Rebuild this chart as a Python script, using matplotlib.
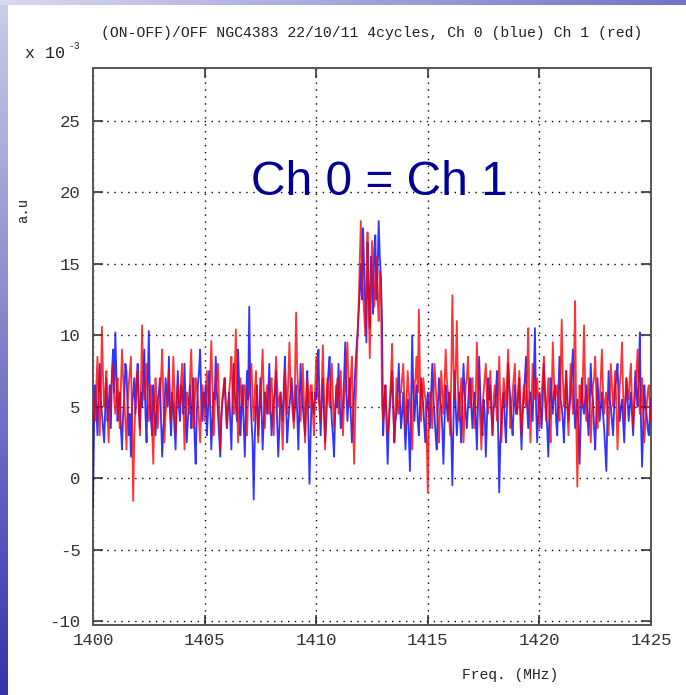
import numpy as np
import matplotlib
matplotlib.use("Agg")
import matplotlib.pyplot as plt

# ---------------- data (values in units of 1e-3) ----------------
freq_start = 1400.0
freq_step = 0.05

ch0_blue = [
    -2.0, 4.0, 6.5, 5.0, 3.0, 6.0, 8.0, 5.5, 4.5, 3.5, 2.5, 5.0, 7.0, 4.0, 5.0, 6.5, 3.5, 7.5, 9.0, 6.0,
    10.2, 7.0, 4.0, 5.5, 6.0, 3.5, 2.0, 4.5, 5.5, 8.0, 7.5, 5.0, 3.0, 4.5, 1.5, 5.0, 6.0, 7.0, 4.5, 6.5,
    8.0, 5.0, 3.5, 6.0, 5.0, 7.0, 9.0, 4.5, 2.5, 6.5, 10.3, 5.5, 4.0, 3.0, 6.5, 5.0, 3.0, 4.5, 5.5, 6.0,
    7.0, 4.0, 1.5, 3.5, 4.5, 7.0, 6.0, 5.0, 8.5, 4.5, 3.0, 6.0, 5.0, 3.5, 2.0, 5.5, 7.5, 5.0, 4.0, 6.5,
    6.0, 4.5, 8.0, 5.0, 2.5, 4.0, 5.5, 6.5, 3.5, 5.0, 7.0, 3.0, 1.0, 4.5, 6.5, 7.5, 9.0, 5.5, 4.0, 6.0,
    5.0, 6.5, 3.0, 4.5, 7.5, 5.0, 2.0, 4.0, 6.0, 5.5, 8.5, 6.0, 4.5, 3.0, 1.5, 4.0, 5.5, 6.0, 7.0, 5.0,
    3.5, 5.0, 6.0, 4.0, 2.0, 5.5, 8.0, 6.0, 5.0, 4.0, 9.0, 6.5, 3.0, 4.5, 6.5, 4.0, 1.5, 4.5, 7.5, 5.5,
    12.0, 6.0, 4.0, 2.5, -1.5, 3.0, 5.0, 6.5, 3.0, 4.5, 7.0, 5.0, 2.0, 4.0, 6.0, 5.5, 4.5, 6.0, 8.0, 5.0,
    3.0, 4.5, 5.5, 6.0, 7.5, 4.0, 1.5, 3.5, 6.0, 5.0, 4.0, 6.5, 8.5, 5.0, 2.5, 4.0, 5.0, 6.0, 7.0, 5.5,
    4.0, 5.0, 6.5, 4.5, 2.0, 5.0, 8.0, 6.0, 5.0, 4.0, 3.0, 5.5, 7.5, 3.5, -0.4, 3.0, 6.0, 5.0, 4.5, 6.0,
    5.5, 7.0, 9.0, 5.0, 3.0, 5.5, 7.0, 4.5, 2.5, 4.0, 6.0, 7.5, 8.5, 5.5, 4.0, 3.0, 1.5, 4.5, 6.5, 5.0,
    8.0, 5.5, 3.5, 4.5, 5.0, 7.0, 9.5, 6.0, 4.0, 5.5, 7.0, 4.5, 2.5, 4.0, 6.0, 7.5, 9.0, 10.0, 11.5, 13.0,
    15.0, 12.5, 17.5, 14.5, 12.0, 9.5, 16.5, 13.0, 10.5, 15.5, 14.0, 11.5, 16.0, 17.0, 12.5, 14.5, 18.0, 15.5, 14.0, 11.0,
    3.0, 5.0, 6.5, 4.0, 1.0, 3.5, 5.0, 6.0, 7.5, 5.0, 2.5, 4.0, 4.5, 6.0, 8.0, 5.5, 3.5, 4.5, 6.0, 4.0,
    2.0, 4.0, 5.5, 3.0, 0.5, 5.0, 10.0, 6.0, 4.0, 5.5, 6.5, 4.0, 3.0, 5.0, 7.0, 6.0, 5.0, 3.5, 2.5, 5.0,
    6.0, 4.5, 3.5, 6.0, 8.0, 5.5, 4.5, 3.0, 2.0, 5.0, 7.0, 5.5, 5.0, 3.5, 1.0, 4.0, 6.5, 5.0, 4.0, 6.0,
    5.5, 3.0, -0.5, 4.0, 7.5, 5.0, 3.0, 4.5, 6.0, 4.0, 2.5, 5.5, 8.0, 6.0, 4.5, 3.5, 5.0, 6.5, 7.0, 5.0,
    3.5, 5.0, 6.0, 4.0, 2.0, 5.5, 8.5, 6.0, 4.0, 3.0, 5.5, 4.5, 1.5, 4.0, 7.0, 5.5, 6.5, 4.5, 3.0, 5.0,
    5.0, 6.0, 7.5, 3.5, -1.0, 2.5, 4.0, 5.5, 6.0, 4.0, 2.5, 5.0, 8.0, 6.5, 5.5, 4.0, 3.0, 5.0, 6.5, 4.5,
    4.5, 6.0, 7.0, 4.0, 2.0, 4.5, 5.5, 7.0, 8.5, 5.0, 3.5, 5.5, 6.0, 5.0, 4.0, 7.0, 10.5, 5.0, 2.5, 4.5,
    6.0, 5.0, 3.5, 5.5, 8.0, 6.0, 5.0, 3.5, 1.5, 4.5, 7.0, 5.5, 4.5, 6.0, 6.5, 4.0, 3.0, 6.0, 8.5, 5.5,
    5.0, 4.0, 2.5, 5.0, 7.5, 5.5, 4.0, 5.0, 6.0, 7.5, 9.0, 5.5, 3.5, 4.5, 5.5, 3.5, 1.0, 4.0, 7.0, 5.0,
    4.5, 5.5, 6.5, 4.5, 3.0, 5.0, 8.0, 6.0, 5.5, 3.5, 2.0, 4.5, 7.0, 5.5, 4.0, 5.0, 6.0, 4.5, 3.5, 2.0,
    0.5, 4.5, 7.5, 5.5, 5.0, 4.0, 3.0, 5.0, 6.5, 7.0, 8.0, 5.5, 4.0, 5.0, 5.5, 4.0, 2.5, 5.0, 7.0, 5.5,
    4.0, 5.0, 6.0, 4.5, 3.0, 5.5, 7.5, 6.0, 5.0, 7.0, 10.2, 4.0, 0.8, 3.5, 6.5, 5.0, 4.5, 3.5, 3.0, 4.5,
    5.5,
]

ch1_red = [
    6.5, 5.0, 4.0, 6.5, 8.5, 5.5, 3.0, 6.0, 10.6, 7.0, 5.0, 6.0, 7.5, 4.5, 2.5, 5.0, 6.0, 7.0, 8.0, 5.5,
    4.5, 6.0, 7.0, 5.0, 3.5, 6.5, 9.0, 7.0, 5.5, 4.0, 2.0, 5.0, 6.5, 7.5, 8.5, 4.0, -1.6, 3.0, 5.0, 7.0,
    7.5, 5.0, 3.0, 6.5, 10.7, 7.0, 5.5, 6.5, 8.0, 5.5, 4.0, 5.0, 6.5, 3.5, 1.0, 4.5, 7.0, 5.5, 3.5, 5.0,
    6.0, 7.0, 9.0, 5.5, 2.5, 4.5, 5.5, 6.5, 7.5, 5.0, 4.0, 6.0, 8.5, 6.0, 3.0, 5.0, 6.5, 5.5, 5.0, 7.0,
    8.0, 5.0, 2.0, 4.5, 6.0, 5.5, 4.5, 7.0, 9.0, 6.0, 3.5, 5.0, 7.0, 6.5, 5.5, 4.0, 2.5, 5.0, 6.5, 5.5,
    4.0, 6.0, 7.5, 6.0, 5.0, 7.0, 9.6, 6.5, 3.0, 5.0, 6.5, 7.0, 8.0, 5.0, 2.0, 4.5, 5.5, 6.5, 7.0, 5.0,
    3.5, 5.0, 6.0, 7.0, 8.5, 6.0, 4.5, 7.5, 10.4, 5.5, 2.5, 5.0, 7.0, 6.0, 5.0, 6.5, 6.5, 4.5, 3.0, 5.5,
    6.0, 7.0, 8.0, 5.5, 4.0, 6.0, 7.5, 5.0, 2.5, 4.5, 5.5, 7.0, 9.0, 6.0, 3.5, 5.5, 6.5, 5.0, 4.5, 6.5,
    7.0, 5.0, 3.0, 6.0, 8.5, 6.5, 5.0, 5.5, 6.0, 4.0, 2.0, 5.0, 7.5, 6.0, 4.5, 7.0, 9.5, 6.5, 5.5, 4.5,
    3.5, 7.0, 11.6, 7.5, 6.0, 5.0, 4.0, 6.0, 8.0, 5.5, 2.5, 5.0, 7.0, 6.0, 5.0, 6.5, 6.5, 4.5, 3.0, 6.0,
    8.5, 6.5, 5.5, 5.0, 4.0, 6.5, 9.3, 5.5, 2.0, 5.0, 7.0, 6.0, 5.0, 6.5, 8.0, 5.5, 3.5, 5.0, 6.0, 7.0,
    4.5, 6.0, 7.5, 5.0, 3.0, 5.5, 6.5, 8.0, 9.5, 6.0, 5.0, 7.0, 8.5, 4.0, 1.0, 4.5, 7.0, 10.0, 12.0, 15.0,
    18.0, 15.0, 13.0, 11.5, 10.0, 14.0, 17.2, 12.0, 8.4, 12.5, 16.6, 14.0, 12.0, 13.5, 15.5, 12.5, 11.0, 14.5, 13.9, 5.0,
    4.0, 5.5, 6.5, 4.5, 3.0, 4.0, 5.5, 7.0, 9.4, 5.5, 2.5, 4.5, 7.0, 5.0, 4.5, 6.0, 6.0, 7.0, 8.0, 5.5,
    3.5, 5.5, 7.5, 6.0, 5.0, 4.0, 2.0, 5.0, 6.5, 7.0, 8.5, 6.0, 11.8, 7.0, 4.0, 5.5, 7.0, 6.0, 5.5, 3.0,
    -1.0, 4.0, 6.0, 5.0, 3.5, 5.5, 8.0, 6.5, 5.0, 4.0, 2.5, 5.0, 7.5, 6.0, 4.5, 6.5, 9.0, 7.0, 6.0, 4.5,
    3.0, 7.0, 12.8, 8.0, 5.5, 7.5, 11.0, 6.5, 4.0, 5.5, 7.0, 5.0, 2.5, 4.5, 6.5, 7.0, 8.5, 6.0, 5.0, 6.5,
    7.0, 5.0, 3.5, 6.0, 9.5, 6.5, 5.5, 4.0, 2.0, 5.0, 6.0, 7.0, 8.0, 5.5, 4.5, 6.0, 7.5, 5.0, 3.0, 5.5,
    6.5, 5.5, 4.0, 6.0, 8.5, 5.0, 2.5, 5.0, 7.0, 6.0, 5.0, 7.0, 9.0, 6.0, 3.5, 5.0, 6.0, 7.0, 8.0, 5.5,
    4.5, 6.0, 7.5, 5.0, 3.0, 5.0, 6.5, 5.5, 5.0, 7.5, 10.5, 5.0, 2.5, 5.5, 8.0, 6.5, 5.5, 6.0, 7.0, 5.0,
    3.5, 5.0, 6.0, 7.0, 8.5, 5.5, 4.0, 5.5, 7.0, 4.5, 2.5, 6.0, 9.5, 7.0, 5.5, 6.0, 6.5, 5.0, 4.0, 7.5,
    11.1, 7.0, 5.0, 6.0, 7.5, 5.0, 3.0, 5.5, 8.0, 6.0, 4.5, 8.0, 12.4, 4.0, -0.6, 3.5, 6.5, 5.5, 5.0, 7.0,
    10.7, 6.5, 4.0, 5.5, 7.0, 5.0, 2.5, 4.5, 6.5, 7.0, 8.5, 6.0, 3.5, 5.0, 5.5, 7.0, 9.0, 6.0, 4.5, 5.5,
    6.0, 4.5, 3.0, 5.5, 8.0, 6.5, 5.0, 6.0, 7.5, 5.0, 2.0, 4.5, 6.5, 7.5, 9.5, 6.0, 4.0, 5.5, 7.0, 6.0,
    5.5, 7.0, 8.0, 5.0, 3.5, 5.0, 6.0, 7.5, 9.0, 6.0, 4.5, 5.5, 7.0, 4.5, 2.5, 4.0, 5.0, 6.0, 6.5, 5.0,
    4.0,
]

assert len(ch0_blue) == 501, len(ch0_blue)
assert len(ch1_red) == 501, len(ch1_red)

x_ticks = [1400, 1405, 1410, 1415, 1420, 1425]
y_ticks = [-10, -5, 0, 5, 10, 15, 20, 25]
title_text = "(ON-OFF)/OFF NGC4383 22/10/11 4cycles, Ch 0 (blue) Ch 1 (red)"
annotation_text = "Ch 0 = Ch 1"

freqs_blue = freq_start + freq_step * np.arange(len(ch0_blue))
freqs_red = freq_start + freq_step * np.arange(len(ch1_red))

# ---------------- figure ----------------
W, H = 686, 695
fig = plt.figure(figsize=(W / 100, H / 100), dpi=100, facecolor="white")

# slide-like background decoration (blue strips at left and top)
bg = fig.add_axes([0, 0, 1, 1], zorder=-10)
img = np.ones((H, W, 3))
rows = np.linspace(0, 1, H)[:, None]
left_col = np.array([0.80, 0.80, 0.92]) * (1 - rows) + np.array([0.20, 0.20, 0.68]) * rows
img[:, :8, :] = left_col[:, None, :]
cols = np.linspace(0, 1, W)[:, None]
top_row = np.array([0.85, 0.85, 0.94]) * (1 - cols) + np.array([0.45, 0.45, 0.78]) * cols
img[:5, :, :] = top_row[None, :, :]
bg.imshow(img, aspect="auto", interpolation="nearest")
bg.axis("off")

mono = "Liberation Mono"
ax = fig.add_axes([93 / W, 1 - 625 / H, (651 - 93) / W, (625 - 68) / H])
ax.set_facecolor("white")

ax.plot(freqs_blue, ch0_blue, color="#0000ff", lw=1.3, alpha=0.8, zorder=3)
ax.plot(freqs_red, ch1_red, color="#ff0000", lw=1.3, alpha=0.8, zorder=4)

ax.set_xlim(1400, 1425)
ax.set_ylim(-10.28, 28.71)
ax.set_xticks(x_ticks)
ax.set_yticks(y_ticks)
ax.set_xticklabels([str(t) for t in x_ticks], family=mono, fontsize=12.5, color="#333333")
ax.set_yticklabels([str(t) for t in y_ticks], family=mono, fontsize=12.5, color="#333333")
ax.tick_params(direction="in", length=7, width=1.2, color="#333333",
               top=True, right=True)
ax.tick_params(axis="y", pad=9)
ax.tick_params(axis="x", pad=6)
ax.grid(True, color="black", lw=1.0, linestyle=(0, (1, 4)))
ax.set_axisbelow(True)
for s in ax.spines.values():
    s.set_color("#555555")
    s.set_linewidth(1.4)

ax.set_title(title_text, family=mono, fontsize=10.6, color="#222222", pad=22)

fig.text(25 / W, 1 - 53 / H, "x 10", family=mono, fontsize=12, color="#222222",
         ha="left", va="center")
fig.text(68 / W, 1 - 46 / H, "-3", family=mono, fontsize=7, color="#222222",
         ha="left", va="center")
fig.text(23 / W, 1 - 210 / H, "a.u", family=mono, fontsize=10, color="#222222",
         rotation=90, ha="center", va="center")
fig.text(510 / W, 1 - 675 / H, "Freq. (MHz)", family=mono, fontsize=10.5,
         color="#222222", ha="center", va="center")

ax.text(0.513, 0.795, annotation_text, transform=ax.transAxes,
        family="Liberation Sans", fontsize=34.5, color="#000096",
        ha="center", va="center", zorder=6)

fig.savefig("out.png", dpi=100, facecolor="white")
